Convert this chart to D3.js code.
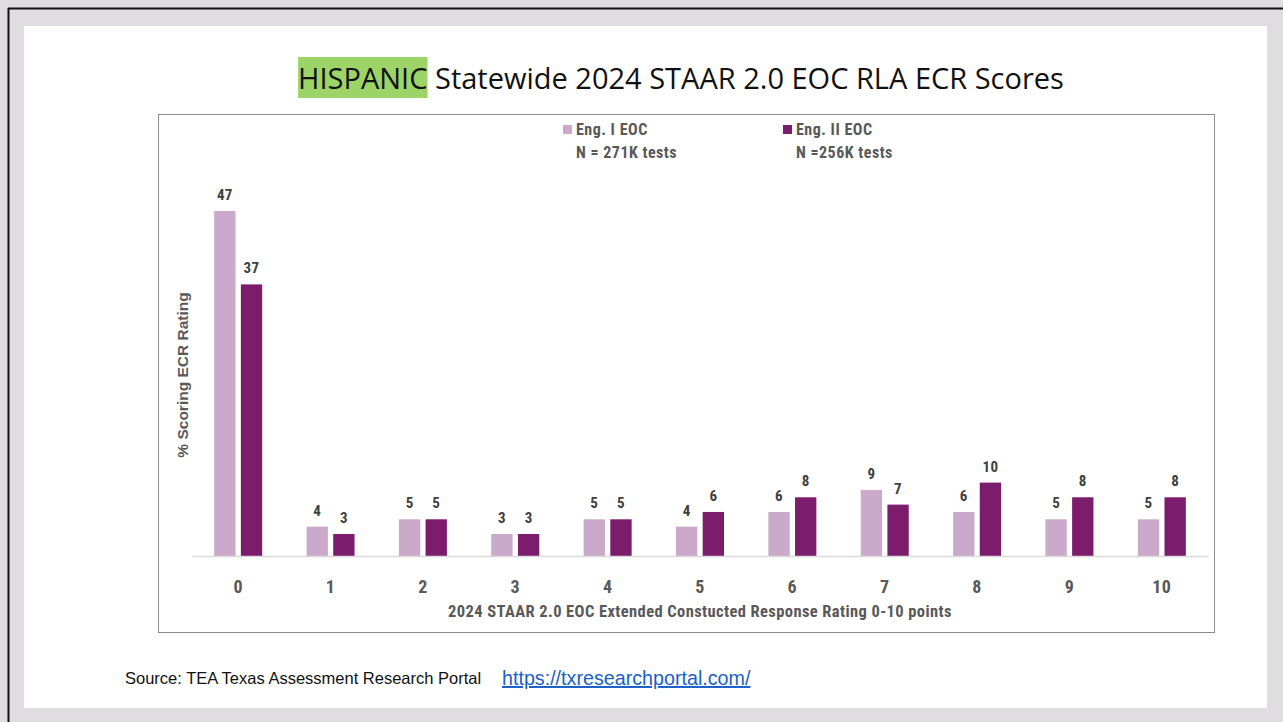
<!DOCTYPE html>
<html>
<head>
<meta charset="utf-8">
<script src="https://cdn.jsdelivr.net/npm/d3@7"></script>
<style>
  body { margin: 0; background: #e0dce2; }
  svg { display: block; }
</style>
</head>
<body>
<div id="chart"></div>
<script>
// data
var ratings = ["0", "1", "2", "3", "4", "5", "6", "7", "8", "9", "10"];
var eng1 = [47, 4, 5, 3, 5, 4, 6, 9, 6, 5, 5];
var eng2 = [37, 3, 5, 3, 5, 6, 8, 7, 10, 8, 8];
var seriesNames = ["Eng. I EOC", "Eng. II EOC"];
var seriesNotes = ["N = 271K tests", "N =256K tests"];
var seriesColors = ["#cba9ca", "#7c1c6d"];

var svgWidth = 1283;
var svgHeight = 722;

var svg = d3.select("#chart")
    .append("svg")
    .attr("width", svgWidth)
    .attr("height", svgHeight);

// slide frame
svg.append("rect")
    .attr("x", 0).attr("y", 0)
    .attr("width", svgWidth).attr("height", svgHeight)
    .attr("fill", "#e0dce2");
svg.append("line")
    .attr("x1", 8).attr("x2", svgWidth).attr("y1", 8.5).attr("y2", 8.5)
    .attr("stroke", "#111").attr("stroke-width", 2);
svg.append("line")
    .attr("x1", 8.5).attr("x2", 8.5).attr("y1", 8).attr("y2", svgHeight)
    .attr("stroke", "#111").attr("stroke-width", 2);
svg.append("rect")
    .attr("x", 24).attr("y", 26)
    .attr("width", 1243).attr("height", 682)
    .attr("fill", "#fff");

// title with highlighted word
var title = svg.append("text")
    .attr("x", 681)
    .attr("y", 89)
    .attr("text-anchor", "middle")
    .style("font-family", "'Open Sans', sans-serif")
    .style("font-size", "29px")
    .attr("fill", "#111");
var hl = title.append("tspan").text("HISPANIC");
title.append("tspan").text(" Statewide 2024 STAAR 2.0 EOC RLA ECR Scores");

var hlBox = hl.node().getBBox();
svg.insert("rect", "text")
    .attr("x", hlBox.x)
    .attr("y", 57)
    .attr("width", hlBox.width)
    .attr("height", 41)
    .attr("fill", "#9cd468");

// chart box
svg.append("rect")
    .attr("x", 158.5).attr("y", 114.5)
    .attr("width", 1056).attr("height", 518)
    .attr("fill", "#fff")
    .attr("stroke", "#8c8c8c");

var margin = {left: 192, top: 211};
var chartWidth = 1208 - margin.left;
var baseY = 556;

var xScale = d3.scaleBand()
    .domain(ratings)
    .range([margin.left, margin.left + chartWidth]);

var subScale = d3.scaleBand()
    .domain([0, 1])
    .range([-24, 24])
    .paddingInner(0.2);

var yScale = d3.scaleLinear()
    .domain([0, 47])
    .range([baseY, margin.top]);

var fontCond = "'Liberation Sans Narrow', 'Roboto Condensed', 'Arial Narrow', sans-serif";

var rows = ratings.map(function(r, i) {
    return {rating: r, vals: [eng1[i], eng2[i]]};
});

var groups = svg.selectAll(".cat")
    .data(rows)
    .enter()
    .append("g")
    .attr("transform", d => `translate(${xScale(d.rating) + xScale.bandwidth() / 2},0)`);

groups.selectAll("rect")
    .data(d => d.vals.map((v, k) => ({k: k, v: v})))
    .enter()
    .append("rect")
    .attr("x", d => subScale(d.k))
    .attr("y", d => yScale(d.v))
    .attr("width", subScale.bandwidth())
    .attr("height", d => baseY - yScale(d.v))
    .attr("fill", d => seriesColors[d.k]);

groups.selectAll(".val")
    .data(d => d.vals.map((v, k) => ({k: k, v: v})))
    .enter()
    .append("text")
    .attr("x", d => subScale(d.k) + subScale.bandwidth() / 2)
    .attr("y", d => yScale(d.v) - 11)
    .attr("text-anchor", "middle")
    .style("font-family", fontCond)
    .style("font-weight", "bold")
    .style("font-size", "15px")
    .style("letter-spacing", "0.3px")
    .attr("fill", "#404040")
    .text(d => d.v);

// x axis
var xAxis = d3.axisBottom(xScale).tickSize(0).tickPadding(24);
var xg = svg.append("g")
    .attr("transform", `translate(0,${baseY})`)
    .call(xAxis);
xg.select(".domain").attr("stroke", "#d9d9d9").attr("stroke-width", 1.5);
xg.selectAll("text")
    .style("font-family", fontCond)
    .style("font-weight", "bold")
    .style("font-size", "18px")
    .style("letter-spacing", "0.4px")
    .attr("fill", "#595959");

svg.append("text")
    .attr("x", 700)
    .attr("y", 617)
    .attr("text-anchor", "middle")
    .style("font-family", fontCond)
    .style("font-weight", "bold")
    .style("font-size", "16.5px")
    .style("letter-spacing", "0.4px")
    .attr("fill", "#595959")
    .text("2024 STAAR 2.0 EOC Extended Constucted Response Rating 0-10 points");

svg.append("text")
    .attr("transform", "translate(188,375) rotate(-90)")
    .attr("text-anchor", "middle")
    .style("font-family", "'Liberation Sans', Arial, sans-serif")
    .style("font-weight", "bold")
    .style("font-size", "15.5px")
    .attr("fill", "#595959")
    .text("% Scoring ECR Rating");

// legend
var legendX = [563, 783];
var legend = svg.selectAll(".leg")
    .data(seriesNames)
    .enter()
    .append("g")
    .attr("transform", (d, i) => `translate(${legendX[i]},0)`);
legend.append("rect")
    .attr("x", 0).attr("y", 125)
    .attr("width", 9).attr("height", 9)
    .attr("fill", (d, i) => seriesColors[i]);
legend.append("text")
    .attr("x", 13).attr("y", 135)
    .style("font-family", fontCond)
    .style("font-weight", "bold")
    .style("font-size", "16px")
    .style("letter-spacing", "0.5px")
    .attr("fill", "#595959")
    .text(d => d);
legend.append("text")
    .attr("x", 13).attr("y", 158)
    .style("font-family", fontCond)
    .style("font-weight", "bold")
    .style("font-size", "16px")
    .style("letter-spacing", "0.5px")
    .attr("fill", "#595959")
    .text((d, i) => seriesNotes[i]);

// source line
svg.append("text")
    .attr("x", 125)
    .attr("y", 684)
    .style("font-family", "'Liberation Sans', Arial, sans-serif")
    .style("font-size", "16.5px")
    .attr("fill", "#111")
    .text("Source: TEA Texas Assessment Research Portal");

svg.append("text")
    .attr("x", 502)
    .attr("y", 685)
    .style("font-family", "'Liberation Sans', Arial, sans-serif")
    .style("font-size", "19.7px")
    .style("text-decoration", "underline")
    .attr("fill", "#1a5fc8")
    .text("https://txresearchportal.com/");
</script>
</body>
</html>
